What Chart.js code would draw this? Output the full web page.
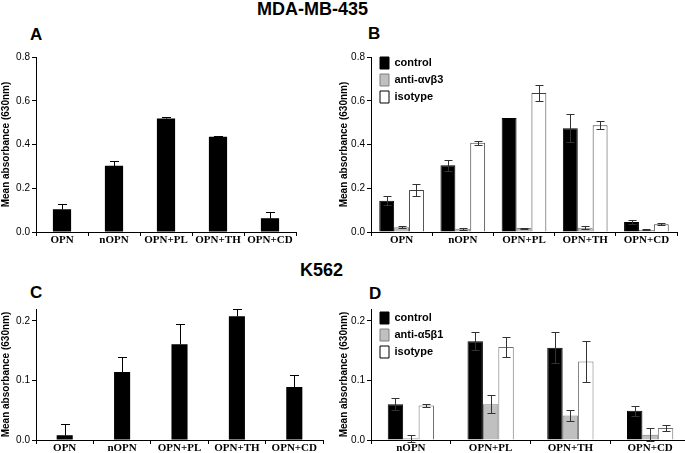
<!DOCTYPE html>
<html>
<head>
<meta charset="utf-8">
<script src="https://cdn.jsdelivr.net/npm/chart.js@4.4.1/dist/chart.umd.min.js"></script>
<style>
  html, body { margin: 0; padding: 0; background: #fff; width: 685px; height: 453px; overflow: hidden; }
  .t { position: absolute; font-family: "Liberation Sans", Arial, sans-serif; font-weight: bold; line-height: 1; white-space: nowrap; color: #000; }
  canvas { position: absolute; }
</style>
</head>
<body>
<div class="t" style="left:257px;top:0px;font-size:18px">MDA-MB-435</div>
<div class="t" style="left:300px;top:261px;font-size:18px">K562</div>
<div class="t" style="left:30px;top:26px;font-size:17px">A</div>
<div class="t" style="left:368px;top:25px;font-size:17px">B</div>
<div class="t" style="left:30px;top:284px;font-size:17px">C</div>
<div class="t" style="left:369px;top:285px;font-size:17px">D</div>

<canvas id="cA" width="300" height="210" style="left:0;top:45px"></canvas>
<canvas id="cB" width="350" height="210" style="left:338px;top:45px"></canvas>
<canvas id="cC" width="330" height="156" style="left:0;top:297px"></canvas>
<canvas id="cD" width="360" height="156" style="left:338px;top:297px"></canvas>

<script>
// categories and tick labels
const catsMDA = ["OPN", "nOPN", "OPN+PL", "OPN+TH", "OPN+CD"];
const catsK = ["OPN", "nOPN", "OPN+PL", "OPN+TH", "OPN+CD"];
const catsD = ["nOPN", "OPN+PL", "OPN+TH", "OPN+CD"];
const ticksMDA = [0, 0.2, 0.4, 0.6, 0.8];
const ticksK = [0, 0.1, 0.2];

// A: MDA-MB-435
const meanA = [0.104, 0.303, 0.519, 0.436, 0.063];
const errA  = [0.024, 0.023, 0.007, 0.003, 0.027];

// B: MDA-MB-435 with antibodies
const ctrlB    = [0.143, 0.305, 0.521, 0.474, 0.046];
const ctrlBErr = [0.020, 0.024, 0,     0.064, 0.008];
const antiB    = [0.022, 0.015, 0.018, 0.020, 0.010];
const antiBErr = [0.005, 0.004, 0.002, 0.008, 0.002];
const isoB     = [0.192, 0.408, 0.635, 0.488, 0.035];
const isoBErr  = [0.026, 0.009, 0.035, 0.018, 0.004];

// C: K562
const meanC = [0.008, 0.114, 0.161, 0.208, 0.089];
const errC  = [0.019, 0.025, 0.034, 0.012, 0.020];

// D: K562 with antibodies
const ctrlD    = [0.060, 0.166, 0.155, 0.049];
const ctrlDErr = [0.010, 0.015, 0.026, 0.008];
const antiD    = [0.003, 0.060, 0.041, 0.009];
const antiDErr = [0.006, 0.015, 0.009, 0.011];
const isoD     = [0.058, 0.156, 0.132, 0.020];
const isoDErr  = [0.003, 0.017, 0.034, 0.005];

const sans = '"Liberation Sans", Arial, sans-serif';
const serif = '"Liberation Serif", "Times New Roman", serif';

// error bars drawn from each dataset's err array
const errorBars = {
  id: "errorBars",
  afterDatasetsDraw(chart, args, opts) {
    const ctx = chart.ctx, y = chart.scales.y;
    chart.data.datasets.forEach((ds, i) => {
      if (!ds.err) return;
      chart.getDatasetMeta(i).data.forEach((bar, j) => {
        const v = ds.data[j], e = ds.err[j];
        if (!e) return;
        const x = Math.round(bar.x) + 0.5;
        const top = Math.round(y.getPixelForValue(v + e)) + 0.5;
        const bot = Math.round(y.getPixelForValue(opts.upOnly ? v : v - e)) + 0.5;
        const w = opts.cap / 2;
        ctx.save();
        ctx.strokeStyle = opts.color;
        ctx.lineWidth = 1;
        ctx.beginPath();
        ctx.moveTo(x, top); ctx.lineTo(x, bot);
        ctx.moveTo(x - w, top); ctx.lineTo(x + w, top);
        if (!opts.upOnly) { ctx.moveTo(x - w, bot); ctx.lineTo(x + w, bot); }
        ctx.stroke();
        ctx.restore();
      });
    });
  }
};

// shift the in-plot legend a little
const legendNudge = {
  id: "legendNudge",
  afterLayout(chart, args, opts) {
    if (chart.legend && opts.dx !== undefined) {
      chart.legend.left += opts.dx;
      chart.legend.top += opts.dy;
    }
  }
};

function yAxis(max, ticks, w) {
  return {
    min: 0, max: max,
    afterBuildTicks: s => { s.ticks = ticks.map(v => ({ value: v })); },
    afterFit: s => { s.width = w; },
    ticks: { color: "#000", font: { family: sans, size: 10 }, padding: 2, callback: v => v.toFixed(1) },
    grid: { drawOnChartArea: false, tickLength: 4, color: "#000" },
    border: { color: "#000" },
    title: { display: true, text: "Mean absorbance (630nm)", color: "#000",
             font: { family: sans, size: 10, weight: "bold" }, padding: 0 }
  };
}

function xAxis(h) {
  return {
    afterFit: s => { s.height = h; },
    ticks: { color: "#000", font: { family: serif, size: 11, weight: "bold" }, padding: -2,
             autoSkip: false, maxRotation: 0 },
    grid: { drawOnChartArea: false, tickLength: 4, color: "#000", offset: true },
    border: { color: "#000" }
  };
}

function legendOpts() {
  return {
    display: true, position: "chartArea", align: "start",
    labels: {
      color: "#000", boxWidth: 9, boxHeight: 12, padding: 5,
      font: { family: sans, size: 11, weight: "bold" },
      generateLabels: c => Chart.defaults.plugins.legend.labels.generateLabels(c)
        .map(l => Object.assign(l, { strokeStyle: l.fillStyle === "#ffffff" ? "#000" : l.strokeStyle }))
    }
  };
}

function makeChart(id, cfg) {
  return new Chart(document.getElementById(id), {
    type: "bar",
    data: { labels: cfg.labels, datasets: cfg.datasets },
    options: {
      responsive: false, animation: false, devicePixelRatio: 1,
      layout: { padding: cfg.padding },
      plugins: {
        legend: cfg.legend || { display: false },
        tooltip: { enabled: false },
        errorBars: cfg.err,
        legendNudge: cfg.nudge || {}
      },
      scales: { x: cfg.x, y: cfg.y }
    },
    plugins: [errorBars, legendNudge]
  });
}

makeChart("cA", {
  labels: catsMDA,
  datasets: [{ data: meanA, err: errA, backgroundColor: "#000", borderColor: "#000", borderWidth: 0,
               categoryPercentage: 1, barPercentage: 0.35 }],
  padding: { top: 12, right: 4, left: 0, bottom: 0 },
  err: { upOnly: true, cap: 9, color: "#000" },
  x: xAxis(23), y: yAxis(0.8, ticksMDA, 36)
});

makeChart("cB", {
  labels: catsMDA,
  datasets: [
    { label: "control", data: ctrlB, err: ctrlBErr, backgroundColor: "#000000", borderColor: "#000", borderWidth: 1,
      categoryPercentage: 0.73, barPercentage: 1 },
    { label: "anti-αvβ3", data: antiB, err: antiBErr, backgroundColor: "#c0c0c0", borderColor: "#7f7f7f", borderWidth: 1,
      categoryPercentage: 0.73, barPercentage: 1 },
    { label: "isotype", data: isoB, err: isoBErr, backgroundColor: "#ffffff", borderColor: "#404040", borderWidth: 1,
      categoryPercentage: 0.73, barPercentage: 1 }
  ],
  padding: { top: 12, right: 11, left: 0, bottom: 0 },
  legend: legendOpts(), nudge: { dx: 4, dy: 7 },
  err: { upOnly: false, cap: 8, color: "#333" },
  x: xAxis(23), y: yAxis(0.8, ticksMDA, 33)
});

makeChart("cC", {
  labels: catsK,
  datasets: [{ data: meanC, err: errC, backgroundColor: "#000", borderColor: "#000", borderWidth: 0,
               categoryPercentage: 1, barPercentage: 0.28 }],
  padding: { top: 12, right: 7, left: 0, bottom: 0 },
  err: { upOnly: true, cap: 9, color: "#000" },
  x: xAxis(13), y: yAxis(0.22, ticksK, 36)
});

makeChart("cD", {
  labels: catsD,
  datasets: [
    { label: "control", data: ctrlD, err: ctrlDErr, backgroundColor: "#000000", borderColor: "#000", borderWidth: 1,
      categoryPercentage: 0.58, barPercentage: 1 },
    { label: "anti-α5β1", data: antiD, err: antiDErr, backgroundColor: "#c0c0c0", borderColor: "#7f7f7f", borderWidth: 1,
      categoryPercentage: 0.58, barPercentage: 1 },
    { label: "isotype", data: isoD, err: isoDErr, backgroundColor: "#ffffff", borderColor: "#707070", borderWidth: 1,
      categoryPercentage: 0.58, barPercentage: 1 }
  ],
  padding: { top: 12, right: 8, left: 0, bottom: 0 },
  legend: legendOpts(), nudge: { dx: 4, dy: 10 },
  err: { upOnly: false, cap: 8, color: "#333" },
  x: xAxis(13), y: yAxis(0.22, ticksK, 33)
});
</script>
</body>
</html>
